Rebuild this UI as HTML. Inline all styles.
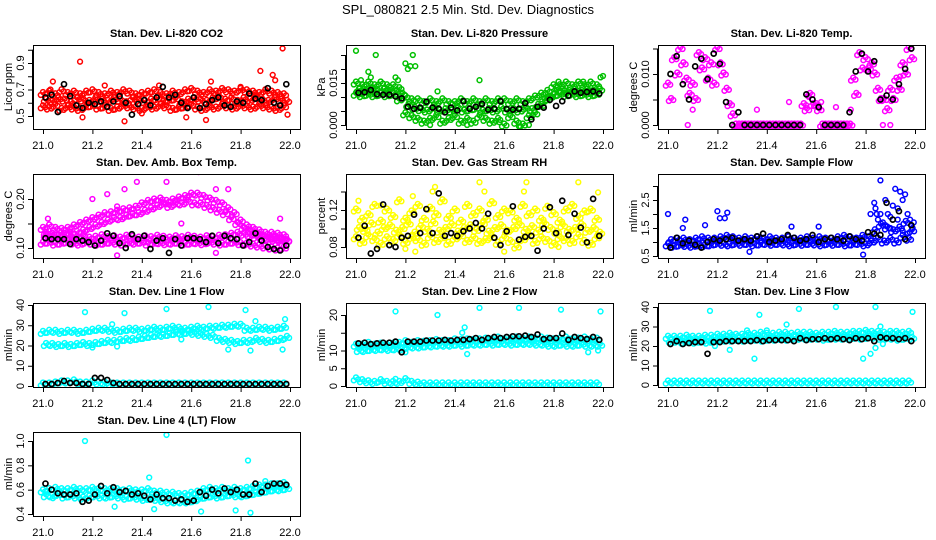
<!DOCTYPE html>
<html><head><meta charset="utf-8"><style>
html,body{margin:0;padding:0;background:#fff;}
svg{display:block;font-family:"Liberation Sans",Arial,sans-serif;}
</style></head><body>
<svg id="chart" width="936" height="540" viewBox="0 0 936 540" xmlns="http://www.w3.org/2000/svg">
<text x="468" y="14" text-anchor="middle" font-size="13">SPL_080821  2.5 Min. Std. Dev. Diagnostics</text>
</svg>
<script>
// ---- shared x data ----
const xTimes = [21.000,21.025,21.050,21.075,21.100,21.125,21.150,21.175,21.200,21.225,21.250,21.275,21.300,21.325,21.350,21.375,21.400,21.425,21.450,21.475,21.500,21.525,21.550,21.575,21.600,21.625,21.650,21.675,21.700,21.725,21.750,21.775,21.800,21.825,21.850,21.875,21.900,21.925,21.950,21.975];
const blackTimes = [21.010,21.035,21.060,21.085,21.110,21.135,21.160,21.185,21.210,21.235,21.260,21.285,21.310,21.335,21.360,21.385,21.410,21.435,21.460,21.485,21.510,21.535,21.560,21.585,21.610,21.635,21.660,21.685,21.710,21.735,21.760,21.785,21.810,21.835,21.860,21.885,21.910,21.935,21.960,21.985];
const xTicks = [21.0,21.2,21.4,21.6,21.8,22.0];
const xTickLabels = ["21.0","21.2","21.4","21.6","21.8","22.0"];

// ---- P1 CO2 ----
const co2Hi = [0.67,0.68,0.66,0.69,0.67,0.68,0.66,0.68,0.69,0.67,0.66,0.68,0.67,0.69,0.68,0.66,0.67,0.68,0.69,0.67,0.66,0.68,0.67,0.69,0.70,0.68,0.67,0.69,0.68,0.70,0.69,0.68,0.70,0.69,0.68,0.67,0.69,0.68,0.67,0.66];
const co2Mid = [0.62,0.61,0.63,0.62,0.60,0.63,0.62,0.61,0.63,0.62,0.61,0.63,0.62,0.60,0.63,0.62,0.61,0.62,0.63,0.61,0.62,0.63,0.60,0.62,0.63,0.62,0.61,0.63,0.64,0.62,0.63,0.61,0.63,0.62,0.64,0.62,0.61,0.63,0.62,0.61];
const co2Lo = [0.57,0.56,0.58,0.55,0.57,0.56,0.55,0.57,0.58,0.56,0.57,0.55,0.56,0.58,0.57,0.56,0.55,0.57,0.56,0.58,0.57,0.55,0.56,0.57,0.58,0.56,0.55,0.57,0.56,0.58,0.57,0.56,0.58,0.57,0.56,0.58,0.57,0.56,0.55,0.57];
const co2OutX = [21.04,21.15,21.16,21.33,21.47,21.58,21.66,21.68,21.88,21.93,21.94,21.97,21.99,21.03,21.25,21.4,21.8];
const co2OutY = [0.76,0.91,0.49,0.46,0.73,0.49,0.47,0.76,0.84,0.81,0.77,1.01,0.51,0.70,0.73,0.52,0.72];
const co2Black = [0.64,0.66,0.53,0.74,0.65,0.58,0.56,0.60,0.59,0.61,0.57,0.61,0.65,0.60,0.51,0.59,0.62,0.58,0.64,0.72,0.64,0.66,0.60,0.56,0.64,0.56,0.59,0.62,0.64,0.58,0.57,0.61,0.60,0.67,0.63,0.62,0.71,0.60,0.58,0.74];

// ---- P2 Pressure ----
const presHi = [0.015,0.014,0.015,0.014,0.015,0.014,0.014,0.013,0.010,0.009,0.009,0.008,0.009,0.008,0.009,0.008,0.008,0.009,0.008,0.009,0.008,0.009,0.008,0.009,0.009,0.008,0.009,0.008,0.009,0.010,0.011,0.012,0.014,0.014,0.015,0.014,0.015,0.014,0.015,0.014];
const presMid = [0.0125,0.012,0.013,0.012,0.0125,0.012,0.012,0.011,0.007,0.006,0.0055,0.005,0.006,0.005,0.0055,0.005,0.006,0.005,0.0055,0.006,0.005,0.0055,0.005,0.006,0.005,0.0055,0.005,0.006,0.0055,0.007,0.009,0.010,0.012,0.0125,0.012,0.0125,0.012,0.0125,0.012,0.0125];
const presLo = [0.011,0.0105,0.011,0.0105,0.011,0.0105,0.011,0.009,0.004,0.003,0.002,0.001,0.002,0.003,0.001,0.002,0.003,0.001,0.002,0.001,0.003,0.002,0.001,0.002,0.000,0.003,0.001,0.000,0.003,0.004,0.007,0.009,0.0105,0.011,0.0105,0.011,0.0105,0.011,0.0105,0.011];
const presOutX = [21.0,21.02,21.05,21.06,21.08,21.16,21.17,21.2,21.21,21.22,21.23,21.24,21.5,21.33,21.99,22.0,21.82,21.3,21.45,21.66,21.7,21.58,21.92];
const presOutY = [0.0265,0.016,0.019,0.017,0.025,0.017,0.016,0.022,0.020,0.021,0.025,0.021,0.016,0.012,0.017,0.0175,0.0155,0.000,0.000,-0.0005,0.000,0.001,0.0155];
const presBlack = [0.0115,0.0117,0.0125,0.011,0.0108,0.0108,0.0102,0.0095,0.0065,0.0058,0.0062,0.0083,0.0062,0.0058,0.0045,0.0062,0.0052,0.0085,0.0058,0.0065,0.0075,0.0055,0.0058,0.0085,0.0057,0.0055,0.0058,0.0078,0.002,0.0065,0.0062,0.009,0.0068,0.0085,0.0105,0.012,0.0115,0.0118,0.012,0.0112];

// ---- P3 Li-820 Temp ----
const tempHi = [0.008,0.013,0.015,0.009,0.008,0.014,0.013,0.012,0.015,0.010,0.004,0,0,0,0,0,0,0,0,0,0,0,0.004,0.006,0.004,0,0,0,0,0,0.009,0.014,0.013,0.012,0.007,0.005,0.007,0.009,0.012,0.015];
const tempLo = [0.005,0.010,0.012,0.006,0.005,0.011,0.009,0.008,0.012,0.007,0.002,0,0,0,0,0,0,0,0,0,0,0,0.003,0.004,0.003,0,0,0,0,0,0.006,0.011,0.011,0.010,0.005,0.003,0.005,0.007,0.010,0.013];
const tempOutX = [21.08,21.1,21.36,21.49,21.57,21.62,21.68,21.87,21.9,21.94,21.74];
const tempOutY = [0,0.003,0.003,0.0045,0.0055,0.0045,0.0035,0,0,0.0095,0.003];
const tempBlack = [0.010,0.0135,0.008,0.005,0.0115,0.013,0.009,0.014,0.012,0.0045,0,0.0025,0,0,0,0,0,0,0,0,0,0,0.006,0.005,0.0035,0,0,0,0,0.0025,0.0105,0.014,0.0105,0.0125,0.005,0.0058,0.005,0.008,0.011,0.015];

// ---- P4 Amb Box Temp ----
const ambLow1 = [0.11,0.112,0.108,0.11,0.113,0.11,0.108,0.112,0.11,0.108,0.11,0.112,0.11,0.108,0.111,0.11,0.112,0.108,0.11,0.111,0.109,0.11,0.112,0.108,0.11,0.111,0.109,0.112,0.11,0.108,0.11,0.112,0.109,0.108,0.106,0.104,0.102,0.10,0.098,0.10];
const ambLow2 = [0.125,0.122,0.124,0.12,0.123,0.121,0.124,0.12,0.122,0.125,0.121,0.123,0.12,0.124,0.122,0.12,0.123,0.121,0.124,0.122,0.12,0.123,0.121,0.124,0.122,0.12,0.123,0.121,0.124,0.125,0.128,0.13,0.128,0.126,0.122,0.12,0.118,0.116,0.115,0.114];
const ambArc1 = [0.14,0.145,0.14,0.138,0.14,0.145,0.15,0.155,0.16,0.165,0.17,0.172,0.175,0.178,0.18,0.183,0.19,0.195,0.198,0.20,0.195,0.198,0.202,0.205,0.21,0.21,0.205,0.20,0.195,0.19,0.18,0.17,0.155,0.145,0.14,0.135,0.13,0.13,0.128,0.125];
const ambArc2 = [0.13,0.128,0.125,0.128,0.13,0.132,0.135,0.14,0.145,0.15,0.155,0.16,0.16,0.165,0.168,0.17,0.175,0.18,0.185,0.19,0.185,0.19,0.19,0.195,0.19,0.19,0.185,0.18,0.175,0.17,0.16,0.15,0.14,0.135,0.13,0.125,0.12,0.12,0.118,0.115];
const ambOutX = [21.02,21.2,21.26,21.3,21.33,21.38,21.5,21.62,21.63,21.56,21.7,21.75,21.96,21.3,21.7];
const ambOutY = [0.16,0.2,0.21,0.085,0.22,0.235,0.235,0.265,0.255,0.15,0.22,0.22,0.16,0.185,0.09];
const ambBlack = [0.12,0.118,0.118,0.118,0.108,0.118,0.115,0.112,0.105,0.115,0.13,0.125,0.11,0.10,0.128,0.118,0.125,0.098,0.115,0.12,0.09,0.118,0.105,0.12,0.12,0.118,0.112,0.125,0.11,0.125,0.12,0.118,0.105,0.112,0.13,0.115,0.102,0.098,0.095,0.105];

// ---- P5 Gas Stream RH ----
const rh1 = [0.09,0.085,0.092,0.088,0.083,0.09,0.087,0.092,0.085,0.09,0.088,0.083,0.091,0.086,0.09,0.084,0.089,0.092,0.086,0.09,0.085,0.088,0.091,0.084,0.09,0.086,0.08,0.088,0.092,0.085,0.09,0.087,0.083,0.09,0.088,0.085,0.092,0.086,0.083,0.09];
const rh2 = [0.10,0.098,0.105,0.095,0.10,0.103,0.097,0.10,0.105,0.095,0.102,0.098,0.106,0.097,0.10,0.104,0.096,0.10,0.103,0.098,0.105,0.096,0.10,0.103,0.097,0.10,0.104,0.098,0.102,0.097,0.105,0.10,0.096,0.103,0.098,0.10,0.104,0.097,0.10,0.095];
const rh3 = [0.12,0.11,0.115,0.125,0.108,0.12,0.113,0.13,0.11,0.118,0.125,0.11,0.122,0.115,0.13,0.112,0.12,0.108,0.125,0.115,0.12,0.11,0.128,0.113,0.12,0.118,0.11,0.125,0.115,0.12,0.11,0.123,0.116,0.108,0.12,0.125,0.112,0.118,0.12,0.11];
const rhOutX = [21.01,21.1,21.23,21.31,21.32,21.5,21.52,21.68,21.69,21.9,21.98,21.2,21.6,21.24,21.82];
const rhOutY = [0.13,0.125,0.135,0.14,0.145,0.15,0.14,0.14,0.15,0.15,0.139,0.078,0.075,0.075,0.08];
const rhBlack = [0.09,0.103,0.073,0.078,0.126,0.082,0.08,0.09,0.092,0.115,0.095,0.121,0.095,0.138,0.092,0.095,0.092,0.097,0.1,0.106,0.1,0.116,0.09,0.082,0.097,0.124,0.088,0.091,0.092,0.076,0.1,0.123,0.095,0.13,0.093,0.116,0.101,0.085,0.132,0.092];

// ---- P6 Sample Flow ----
const sf1 = [0.9,0.85,0.9,0.88,0.85,0.9,0.87,0.9,0.95,0.92,0.9,0.95,0.92,0.95,0.9,0.93,0.95,0.92,0.95,0.93,0.9,0.95,0.92,0.95,0.93,0.9,0.95,0.92,0.95,0.9,0.93,0.95,0.9,1.0,1.1,1.0,1.1,1.0,1.2,1.1];
const sf2 = [1.05,1.1,1.1,1.05,1.1,1.15,1.1,1.1,1.15,1.2,1.15,1.1,1.15,1.1,1.15,1.1,1.15,1.1,1.1,1.15,1.1,1.1,1.15,1.1,1.15,1.1,1.1,1.15,1.2,1.15,1.1,1.2,1.15,1.4,1.6,1.5,1.4,1.5,1.7,1.4];
const sfOutX = [21.835,21.84,21.845,21.85,21.86,21.87,21.88,21.89,21.9,21.91,21.92,21.93,21.94,21.95,21.96,21.97,21.98,21.99,21.995,21.86,21.88,21.9,21.93,21.95,21.97,21.0,21.06,21.07,21.15,21.2,21.21,21.23,21.24,21.5,21.61,21.33,21.79,21.82];
const sfOutY = [2.4,2.2,2.0,1.8,3.2,1.7,2.5,2.0,1.9,2.3,2.9,2.2,2.8,2.5,2.7,2.0,1.8,1.5,1.7,2.0,1.6,1.5,1.8,1.4,1.3,2.0,1.5,1.8,1.6,2.1,1.85,1.85,2.05,1.55,1.55,0.65,0.55,2.0];
const sfBlack = [0.8,1.15,0.95,1.05,0.9,0.8,1.0,1.1,1.05,1.1,1.15,1.05,1.1,1.05,1.2,1.3,1.0,1.05,1.1,1.25,1.15,1.05,1.1,1.25,1.0,1.1,1.15,1.1,1.05,1.2,1.1,1.05,1.35,1.3,1.25,2.4,1.8,2.1,1.1,1.6];

// ---- P7 Line 1 Flow ----
const l1Up = [26.5,27,27,26.5,27,27,26.5,27,27.5,28,28,27.5,27,27.5,28,28,27.5,28,28.5,28,28.5,29,28.5,28,28.5,29,28.5,29,29,29.5,29.5,30,30,28,28,28.5,28.5,28,28.5,29];
const l1Lo = [20.5,20.5,20,20.5,20,20.5,21,20.5,21,21.5,22,22,22.5,23,23,23.5,24,24.5,25,25,25.5,26,26,26.5,26,25.5,25,24.5,23,22.5,22,21.5,22,22,23,22.5,22,22.5,23,24];
const l1Bot = [1,1,1.5,2,2,2.5,1.5,1.5,2,1.5,1.5,1,1,1,1,1,1,1,1,1,1,1,1,1,1,1,1,1,1,1,1,1,1,1,1,1,1,1,1,1];
const l1OutX = [21.17,21.33,21.5,21.67,21.82,21.86,21.2,21.3,21.98,21.97,21.75,21.84,21.56,21.28];
const l1OutY = [36.5,36,38,39,37.5,32,19,19.5,33,18,18,17.5,23,30.5];
const l1Black = [1,1,1.5,2.5,1.5,1.5,1,1,4,4,3,1.5,1,1,1,1,1,1,1,1,1,1,1,1,1,1,1,1,1,1,1,1,1,1,1,1,1,1,1,1];

// ---- P8 Line 2 Flow ----
const l2Up = [11.5,11.5,12,11.5,11.8,11.5,11.8,12,12.5,12,12.5,12.3,12.5,12.8,12.5,12.5,13,12.8,13,12.8,13,13.2,13,13.5,13,13.2,13.5,13.2,13.5,13.3,13.5,13.2,13,13.2,13.5,13,13.2,13.5,13,13.2];
const l2Lo = [10,10,10.3,10.3,10.5,10.3,10.5,10.5,11,11,11,11.3,11.3,11.5,11.5,11.5,11.8,11.5,11.8,11.8,11.8,12,11.8,12,12,11.8,12,12,12,11.8,11.8,11.5,11.5,11.8,11.5,11.5,11.8,11.5,11.5,11.5];
const l2Bot = [2,1.5,1.2,1,1.5,1,1,1,1.8,1,0.8,0.6,0.6,0.6,0.6,0.6,0.6,0.6,0.6,0.6,0.6,0.6,0.6,0.6,0.6,0.6,0.6,0.6,0.6,0.6,0.6,0.6,0.6,0.6,0.6,0.6,0.6,0.6,0.6,0.6];
const l2OutX = [21.16,21.33,21.5,21.66,21.83,21.99,21.43,21.44,21.2,21.45,21.94,21.98,21.16];
const l2OutY = [21,20,22,22,21.5,21,15,16.5,9.5,9,9.5,10,2];
const l2Black = [12,12.2,11.8,12,12.2,12.2,12.5,9.5,12.5,12.5,12.5,12.8,12.8,12.8,13,12.8,13,13,13.2,13.5,13,13.5,13.8,13.5,13.8,14,14,14.2,13.8,14.5,13.2,13.5,13.5,14.8,13,13.8,13.5,13.2,13.8,13];

// ---- P9 Line 3 Flow ----
const l3Up = [24.5,24.5,24.5,25,24.5,24.5,25,25,25.5,25.5,26,25.5,25.5,26,26,26.5,26,26,26.5,26.5,26,26.5,26.5,26.5,26,26.5,26.5,27,26.5,26.5,27,27,27.5,27,27,26.5,27,27,26.5,27];
const l3Lo = [22.5,22.5,22,22.5,22,22.5,22,22.5,23,23,23,23.5,23,23.5,23.5,23,23.5,23.5,24,23.5,24,24,24,24,24,23.5,24,24,24,24,24.5,24,24.5,24.5,24,24,24,23.5,24,24];
const l3Bot = [1.5,1.5,1.5,1.5,1.5,1.5,1.5,1.5,1.5,1.5,1.5,1.5,1.5,1.5,1.5,1.5,1.5,1.5,1.5,1.5,1.5,1.5,1.5,1.5,1.5,1.5,1.5,1.5,1.5,1.5,1.5,1.5,1.5,1.5,1.5,1.5,1.5,1.5,1.5,1.5];
const l3OutX = [21.17,21.37,21.53,21.68,21.84,21.99,21.25,21.32,21.48,21.35,21.4,21.79,21.82,21.84,21.86,21.19,21.87];
const l3OutY = [38,36,39,40,40,37.5,18,28,31,13.5,28,13.5,16,19,30,20,21];
const l3Black = [21,22.5,21,21.5,22,22,16,22,22,22.5,22.5,22.5,22.5,22.5,23,22.5,23,23,23,23,22.5,24,23,23.5,23.5,24,23.5,24,23.5,23,24,23.5,24,22.5,24.5,24,24,23.5,24,22.5];

// ---- P10 Line 4 (LT) Flow ----
const l4Up = [0.59,0.6,0.61,0.6,0.6,0.61,0.6,0.6,0.61,0.6,0.6,0.6,0.6,0.59,0.6,0.59,0.59,0.6,0.58,0.58,0.57,0.57,0.56,0.56,0.57,0.58,0.6,0.61,0.6,0.61,0.6,0.61,0.6,0.61,0.62,0.63,0.63,0.64,0.64,0.65];
const l4Lo = [0.55,0.55,0.56,0.54,0.55,0.54,0.53,0.54,0.55,0.54,0.54,0.55,0.54,0.53,0.54,0.53,0.52,0.53,0.52,0.51,0.5,0.5,0.5,0.5,0.51,0.53,0.54,0.55,0.54,0.55,0.56,0.55,0.55,0.56,0.57,0.58,0.59,0.6,0.6,0.61];
const l4OutX = [21.17,21.5,21.83,21.43,21.45,21.29,21.64,21.84,21.78,21.9,21.04];
const l4OutY = [1.0,1.05,0.84,0.7,0.44,0.46,0.42,0.41,0.43,0.67,0.53];
const l4Black = [0.65,0.6,0.57,0.56,0.56,0.57,0.5,0.51,0.56,0.63,0.57,0.62,0.58,0.59,0.56,0.57,0.55,0.52,0.56,0.53,0.53,0.51,0.52,0.5,0.51,0.58,0.55,0.6,0.57,0.61,0.58,0.6,0.56,0.56,0.65,0.58,0.63,0.65,0.65,0.64];

// ---- tick arrays ----
const co2Ticks=[0.5,0.6,0.7,0.8,0.9,1.0], co2Labels=["0.5","","0.7","","0.9",""];
const presTicks=[0,0.005,0.010,0.015,0.020,0.025], presLabels=["0.000","","","0.015","",""];
const tempTicks=[0,0.005,0.010,0.015], tempLabels=["0.000","","0.010",""];
const ambTicks=[0.10,0.15,0.20], ambLabels=["0.10","","0.20"];
const rhTicks=[0.08,0.10,0.12,0.14], rhLabels=["0.08","","0.12",""];
const sfTicks=[0.5,1.0,1.5,2.0,2.5,3.0], sfLabels=["0.5","","1.5","","2.5",""];
const l1Ticks=[0,10,20,30,40], l1Labels=["0","10","20","30","40"];
const l2Ticks=[0,5,10,15,20], l2Labels=["0","5","10","","20"];
const l3Ticks=[0,10,20,30,40], l3Labels=["0","10","20","30","40"];
const l4Ticks=[0.4,0.6,0.8,1.0], l4Labels=["0.4","0.6","0.8","1.0"];

const NS="http://www.w3.org/2000/svg";
const svg=document.getElementById('chart');
const colLeft=[33,346,658], rowTop=[45,174,303,432];
const BOXW=267, BOXH=84;
// glyph cluster offsets (marker style: each strand sample drawn as a small dense cluster)
const clusterDX=[-0.009,0,0.009], clusterDY=[1.5,-1.5,0.5];
function mk(tag,attrs,parent){const e=document.createElementNS(NS,tag);for(const k in attrs)e.setAttribute(k,attrs[k]);(parent||svg).appendChild(e);return e;}

function drawPanel(p){
  const L=colLeft[p.col], T=rowTop[p.row], B=T+BOXH, R=L+BOXW;
  const xs=v=>L+10+(v-21)*247;
  const ys=v=>p.py0+(v-p.v0)*(p.py1-p.py0)/(p.v1-p.v0);
  const g=mk('g',{});
  
  
  const t=mk('text',{x:(L+R)/2,y:T-8,'text-anchor':'middle','font-size':11,'font-weight':'bold'},g);
  
  
  t.textContent=p.title;
  const cid='clip-'+p.name;
  const cp=mk('clipPath',{id:cid},g); mk('rect',{x:L,y:T,width:BOXW,height:BOXH},cp);
  const pts=mk('g',{'clip-path':'url(#'+cid+')',fill:'none'},g);
  
  
  p.strands.forEach((s,si)=>{
    s.forEach((v,i)=>{
      const bx=xTimes[i]+(si%2)*0.0125;
      clusterDX.forEach((dx,k)=>{
        const c=mk('circle',{cx:xs(bx+dx),cy:ys(v)+clusterDY[k],r:2.4,stroke:p.color,'stroke-width':1.5},pts);
        
        
      });
    });
  });
  p.outX.forEach((x,i)=>{
    const c=mk('circle',{cx:xs(x),cy:ys(p.outY[i]),r:2.4,stroke:p.color,'stroke-width':1.5},pts);
    
    
  });
  p.black.forEach((v,i)=>{
    const c=mk('circle',{cx:xs(blackTimes[i]),cy:ys(v),r:2.5,stroke:'#000','stroke-width':1.7},pts);
    
    
  });
  const box=mk('rect',{x:L+0.5,y:T+0.5,width:BOXW,height:BOXH,fill:'none',stroke:'#000','stroke-width':1},g);
  
  
  mk('line',{x1:xs(21),x2:xs(22),y1:B+0.5,y2:B+0.5,stroke:'#000'},g);
  xTicks.forEach((v,i)=>{
    mk('line',{x1:xs(v)+0.5,x2:xs(v)+0.5,y1:B,y2:B+5,stroke:'#000'},g);
    const tl=mk('text',{x:xs(v),y:B+20,'text-anchor':'middle','font-size':11},g);
    
    
    tl.textContent=xTickLabels[i];
  });
  mk('line',{x1:L-0.5,x2:L-0.5,y1:ys(p.ticks[0]),y2:ys(p.ticks[p.ticks.length-1]),stroke:'#000'},g);
  p.ticks.forEach((v,i)=>{
    const y=ys(v);
    mk('line',{x1:L-5,x2:L,y1:y+0.5,y2:y+0.5,stroke:'#000'},g);
    if(p.labels[i]){
      const tl=mk('text',{x:0,y:0,'text-anchor':'middle','font-size':11,transform:'translate('+(L-9)+','+y+') rotate(-90)'},g);
      
      
      tl.textContent=p.labels[i];
    }
  });
  const yl=mk('text',{x:0,y:0,'text-anchor':'middle','font-size':11,transform:'translate('+(L-21)+','+((T+B)/2)+') rotate(-90)'},g);
  
  
  yl.textContent=p.ylab;
}

const panels=[
 {name:'co2',title:'Stan. Dev. Li-820 CO2',col:0,row:0,color:'#ff0000',v0:0.5,py0:116,v1:0.9,py1:63,ticks:co2Ticks,labels:co2Labels,ylab:'Licor ppm',strands:[co2Hi,co2Mid,co2Lo],outX:co2OutX,outY:co2OutY,black:co2Black},
 {name:'pressure',title:'Stan. Dev. Li-820 Pressure',col:1,row:0,color:'#00c000',v0:0,py0:125,v1:0.015,py1:83,ticks:presTicks,labels:presLabels,ylab:'kPa',strands:[presHi,presMid,presLo],outX:presOutX,outY:presOutY,black:presBlack},
 {name:'li820-temp',title:'Stan. Dev. Li-820 Temp.',col:2,row:0,color:'#ff00ff',v0:0,py0:125,v1:0.010,py1:74,ticks:tempTicks,labels:tempLabels,ylab:'degrees C',strands:[tempHi,tempLo],outX:tempOutX,outY:tempOutY,black:tempBlack},
 {name:'amb-box-temp',title:'Stan. Dev. Amb. Box Temp.',col:0,row:1,color:'#ff00ff',v0:0.10,py0:248,v1:0.20,py1:199,ticks:ambTicks,labels:ambLabels,ylab:'degrees C',strands:[ambLow1,ambLow2,ambArc1,ambArc2],outX:ambOutX,outY:ambOutY,black:ambBlack},
 {name:'gas-rh',title:'Stan. Dev. Gas Stream RH',col:1,row:1,color:'#ffff00',v0:0.08,py0:247,v1:0.12,py1:210,ticks:rhTicks,labels:rhLabels,ylab:'percent',strands:[rh1,rh2,rh3],outX:rhOutX,outY:rhOutY,black:rhBlack},
 {name:'sample-flow',title:'Stan. Dev. Sample Flow',col:2,row:1,color:'#0000ff',v0:0.5,py0:256,v1:2.5,py1:200,ticks:sfTicks,labels:sfLabels,ylab:'ml/min',strands:[sf1,sf2],outX:sfOutX,outY:sfOutY,black:sfBlack},
 {name:'line1-flow',title:'Stan. Dev. Line 1 Flow',col:0,row:2,color:'#00ffff',v0:0,py0:386,v1:40,py1:305,ticks:l1Ticks,labels:l1Labels,ylab:'ml/min',strands:[l1Up,l1Lo,l1Bot],outX:l1OutX,outY:l1OutY,black:l1Black},
 {name:'line2-flow',title:'Stan. Dev. Line 2 Flow',col:1,row:2,color:'#00ffff',v0:0,py0:386,v1:20,py1:315,ticks:l2Ticks,labels:l2Labels,ylab:'ml/min',strands:[l2Up,l2Lo,l2Bot],outX:l2OutX,outY:l2OutY,black:l2Black},
 {name:'line3-flow',title:'Stan. Dev. Line 3 Flow',col:2,row:2,color:'#00ffff',v0:0,py0:385,v1:40,py1:307,ticks:l3Ticks,labels:l3Labels,ylab:'ml/min',strands:[l3Up,l3Lo,l3Bot],outX:l3OutX,outY:l3OutY,black:l3Black},
 {name:'line4-flow',title:'Stan. Dev. Line 4 (LT) Flow',col:0,row:3,color:'#00ffff',v0:0.4,py0:514,v1:1.0,py1:441,ticks:l4Ticks,labels:l4Labels,ylab:'ml/min',strands:[l4Up,l4Lo],outX:l4OutX,outY:l4OutY,black:l4Black}
];
panels.forEach(drawPanel);
</script>
</body></html>
